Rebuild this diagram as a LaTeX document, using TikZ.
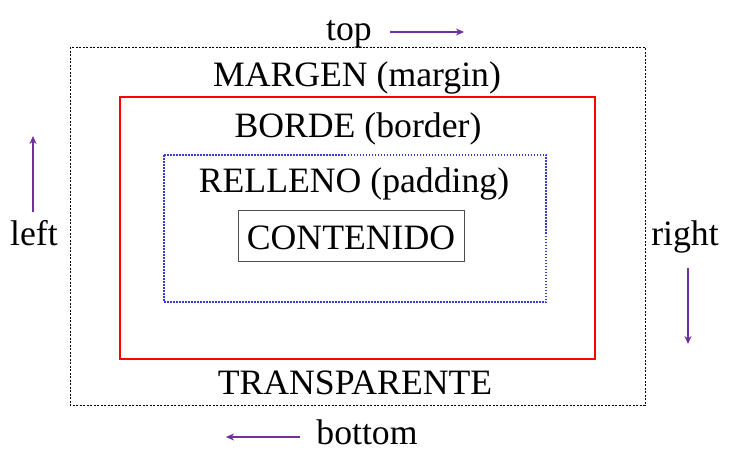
\documentclass[tikz,border=0pt]{standalone}
\usepackage{fontspec}
\setmainfont{Liberation Serif}
\usetikzlibrary{arrows.meta}
\definecolor{arrowpurple}{RGB}{112,48,160}
\definecolor{padblue}{RGB}{60,60,210}
\begin{document}
\begin{tikzpicture}[x=1pt,y=-1pt,
  lbl/.style={font=\fontsize{35.7}{40}\selectfont, inner sep=0pt, anchor=base},
  dirarrow/.style={draw=arrowpurple, line width=1.8pt, -{Stealth[length=8pt,width=7pt]}},
  marginbox/.style={draw=black, line width=0.8pt, dash pattern=on 2pt off 1.5pt},
  borderbox/.style={draw=red, line width=2pt},
  paddingbox/.style={draw=padblue, line width=1.4pt, dash pattern=on 1.5pt off 1.5pt},
  contentbox/.style={draw=black!70, line width=1pt}]
\useasboundingbox (0,0) rectangle (729,455);
\draw[marginbox] (70,47) rectangle (645,405);
\draw[borderbox] (120,97) rectangle (595,359);
\draw[paddingbox] (164,155) rectangle (546,302);
\draw[contentbox] (238,210) rectangle (464,261);
\node[lbl] (top) at (349,40) {top};
\node[lbl] (margin) at (357,86) {MARGEN (margin)};
\node[lbl] (border) at (358,137) {BORDE (border)};
\node[lbl] (padding) at (354,192) {RELLENO (padding)};
\node[lbl] (content) at (351,249) {CONTENIDO};
\node[lbl] (transp) at (355,394) {TRANSPARENTE};
\node[lbl] (bottom) at (367,444) {bottom};
\node[lbl] (left) at (34,245) {left};
\node[lbl] (right) at (685,245) {right};
\coordinate (ta) at (390,32); \coordinate (tb) at (464,32);
\coordinate (ba) at (300,437); \coordinate (bb) at (226,437);
\coordinate (la) at (33,212); \coordinate (lb) at (33,136);
\coordinate (ra) at (688,268); \coordinate (rb) at (688,344);
\draw[dirarrow] (ta) -- (tb);
\draw[dirarrow] (ba) -- (bb);
\draw[dirarrow] (la) -- (lb);
\draw[dirarrow] (ra) -- (rb);
\end{tikzpicture}
\end{document}
